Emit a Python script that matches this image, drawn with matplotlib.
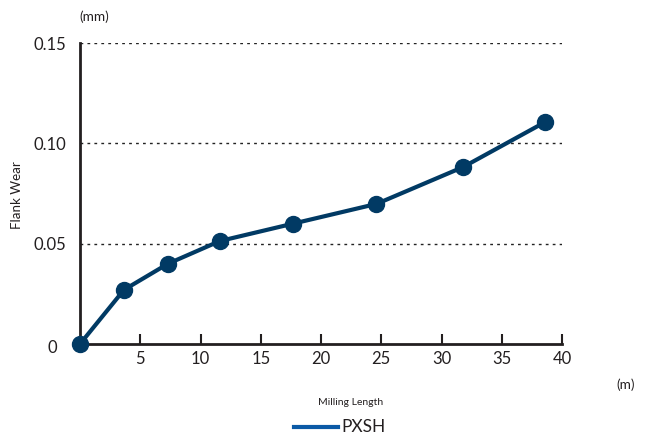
import matplotlib
matplotlib.use("Agg")
import matplotlib.pyplot as plt
from matplotlib.lines import Line2D

plt.rcParams['font.family'] = ['Lato', 'DejaVu Sans']

milling_length = [0, 3.65, 7.3, 11.6, 17.7, 24.6, 31.8, 38.6]
flank_wear = [0, 0.027, 0.040, 0.0513, 0.060, 0.0698, 0.0882, 0.1106]
series_name = "PXSH"
x_ticks = [5, 10, 15, 20, 25, 30, 35, 40]
y_ticks = [0.05, 0.10, 0.15]
y_tick_labels = ["0.05", "0.10", "0.15"]

line_color = "#013a64"
legend_color = "#0b5aa6"
text_color = "#231f20"

fig = plt.figure(figsize=(6.49, 4.40), dpi=100)
ax = fig.add_axes([80/649, 1-344/440, 482/649, 301/440])

ax.plot(milling_length, flank_wear, color=line_color, lw=3.0, marker='o',
        markersize=11.5, markerfacecolor=line_color, markeredgecolor=line_color,
        zorder=5, clip_on=False)

ax.set_xlim(0, 40)
ax.set_ylim(0, 0.15)
ax.set_xticks(x_ticks)
ax.set_xticklabels([str(v) for v in x_ticks])
ax.set_yticks(y_ticks)
ax.set_yticklabels(y_tick_labels)

for y in y_ticks:
    ax.axhline(y, color='#222222', lw=1.0, ls=(0, (2, 3)), zorder=1)

for s in ['top', 'right']:
    ax.spines[s].set_visible(False)
for s in ['left', 'bottom']:
    ax.spines[s].set_linewidth(2.0)
    ax.spines[s].set_color(text_color)

ax.tick_params(axis='x', direction='in', length=7, width=1.5, colors=text_color,
               labelsize=12, pad=5)
ax.tick_params(axis='y', length=0, labelsize=12, pad=10, colors=text_color)

fig.text(52/649, 1-348/440, "0", fontsize=12, color=text_color, ha='center', va='center')
fig.text(94/649, 1-17/440, "(mm)", fontsize=9.8, color=text_color, ha='center', va='center')
fig.text(626/649, 1-385/440, "(m)", fontsize=9.8, color=text_color, ha='center', va='center')
fig.text(351/649, 1-402/440, "Milling Length", fontsize=7.5, color=text_color, ha='center', va='center')
fig.text(17/649, 1-195/440, "Flank Wear", fontsize=9.6, color=text_color, ha='center', va='center',
         rotation=90)

fig.add_artist(Line2D([294/649, 338/649], [1-427/440, 1-427/440], color=legend_color, lw=3.0))
fig.text(341/649, 1-427/440, series_name, fontsize=12.5, color=text_color, ha='left', va='center')

fig.savefig("out.png", dpi=100)
